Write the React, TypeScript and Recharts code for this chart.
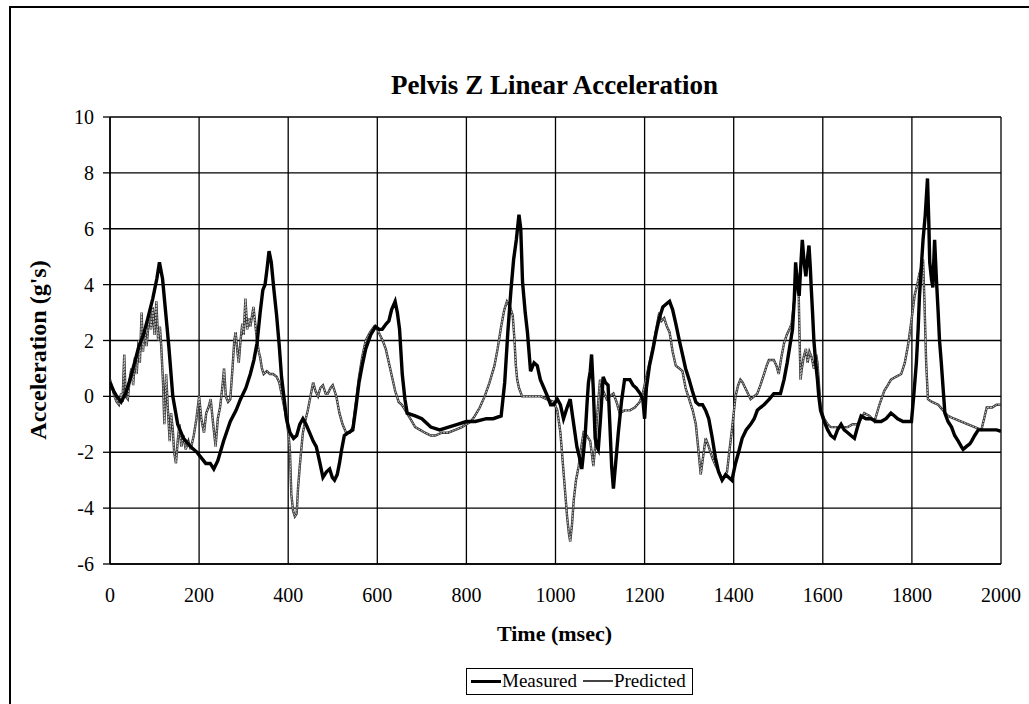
import React from 'react'
import { LineChart, Line, XAxis, YAxis, CartesianGrid } from 'recharts'

// time (msec) / acceleration (g's)
const measuredT = [0, 8, 15, 25, 35, 45, 55, 65, 75, 85, 96, 105, 111, 118, 125, 132, 141, 152, 165, 181, 195, 205, 215, 225, 233, 242, 255, 270, 283, 293, 305, 315, 323, 330, 337, 343, 348, 352, 357, 362, 368, 374, 380, 385, 391, 396, 404, 412, 419, 426, 433, 440, 448, 456, 463, 470, 478, 486, 493, 499, 504, 510, 515, 520, 526, 535, 545, 552, 559, 566, 574, 585, 596, 604, 611, 620, 626, 632, 640, 645, 650, 656, 662, 667, 685, 700, 720, 740, 760, 780, 800, 820, 845, 860, 878, 886, 893, 900, 906, 912, 918, 922, 926, 932, 937, 944, 952, 959, 966, 974, 982, 989, 996, 1004, 1011, 1018, 1026, 1033, 1040, 1048, 1054, 1059, 1063, 1067, 1071, 1074, 1078, 1081, 1085, 1089, 1093, 1096, 1101, 1107, 1112, 1118, 1122, 1126, 1130, 1135, 1141, 1148, 1155, 1161, 1167, 1174, 1181, 1190, 1196, 1200, 1204, 1211, 1219, 1226, 1233, 1241, 1248, 1256, 1263, 1270, 1278, 1285, 1292, 1300, 1307, 1315, 1322, 1330, 1337, 1344, 1352, 1359, 1366, 1374, 1382, 1389, 1396, 1404, 1411, 1419, 1428, 1438, 1446, 1453, 1460, 1468, 1480, 1490, 1505, 1513, 1520, 1526, 1532, 1536, 1539, 1543, 1547, 1551, 1554, 1558, 1562, 1566, 1569, 1572, 1574, 1577, 1580, 1584, 1588, 1591, 1595, 1603, 1611, 1618, 1626, 1633, 1641, 1648, 1656, 1663, 1671, 1678, 1686, 1697, 1708, 1720, 1731, 1742, 1753, 1761, 1768, 1780, 1790, 1799, 1804, 1810, 1814, 1817, 1821, 1825, 1830, 1835, 1838, 1840, 1844, 1847, 1849, 1851, 1855, 1859, 1862, 1866, 1870, 1874, 1881, 1889, 1896, 1904, 1911, 1915, 1922, 1930, 1934, 1941, 1949, 1960, 1975, 1990, 2000]
const measuredV = [0.5, 0.2, 0.0, -0.2, 0.1, 0.6, 1.2, 1.8, 2.2, 2.8, 3.5, 4.2, 4.8, 4.2, 3.0, 1.8, 0.0, -1.0, -1.5, -1.8, -2.0, -2.2, -2.4, -2.4, -2.6, -2.3, -1.6, -0.9, -0.5, -0.1, 0.3, 0.8, 1.3, 1.9, 3.0, 3.8, 4.0, 4.5, 5.2, 4.8, 3.8, 2.9, 1.8, 0.7, -0.1, -0.8, -1.3, -1.5, -1.4, -1.0, -0.8, -1.0, -1.3, -1.6, -1.8, -2.3, -2.9, -2.7, -2.6, -2.9, -3.0, -2.8, -2.4, -1.9, -1.4, -1.3, -1.2, -0.4, 0.5, 1.1, 1.7, 2.2, 2.5, 2.4, 2.4, 2.6, 2.7, 3.1, 3.4, 3.0, 2.4, 0.8, -0.1, -0.6, -0.7, -0.8, -1.1, -1.2, -1.1, -1.0, -0.9, -0.9, -0.8, -0.8, -0.7, 0.5, 2.3, 3.8, 4.9, 5.6, 6.5, 6.0, 4.1, 3.0, 2.3, 0.9, 1.2, 1.1, 0.6, 0.3, 0.0, -0.3, -0.3, -0.1, -0.3, -0.8, -0.4, -0.1, -0.9, -1.8, -2.2, -2.6, -2.0, -1.3, -0.2, 0.5, 0.9, 1.5, 0.2, -1.5, -1.8, -1.9, -0.8, 0.7, 0.5, 0.4, -1.0, -2.5, -3.3, -2.4, -1.3, -0.2, 0.6, 0.6, 0.6, 0.4, 0.3, 0.1, -0.1, -0.8, 0.3, 1.1, 1.7, 2.3, 2.8, 3.2, 3.3, 3.4, 3.1, 2.6, 2.0, 1.5, 1.0, 0.6, 0.2, -0.2, -0.3, -0.3, -0.5, -0.8, -1.5, -2.2, -2.7, -3.0, -2.8, -2.9, -3.0, -2.4, -2.0, -1.5, -1.2, -1.0, -0.8, -0.5, -0.4, -0.3, -0.1, 0.1, 0.1, 0.6, 1.2, 1.8, 2.4, 3.5, 4.8, 4.0, 3.6, 4.8, 5.6, 4.8, 4.3, 5.0, 5.4, 4.6, 3.9, 3.0, 2.0, 1.2, 0.6, 0.0, -0.5, -0.9, -1.2, -1.4, -1.5, -1.2, -1.0, -1.2, -1.3, -1.4, -1.5, -1.1, -0.7, -0.8, -0.8, -0.9, -0.9, -0.8, -0.6, -0.7, -0.8, -0.9, -0.9, -0.9, 0.0, 1.2, 2.4, 3.6, 4.6, 5.6, 6.5, 7.8, 6.2, 4.8, 4.2, 3.9, 4.8, 5.6, 4.2, 3.0, 2.0, 1.2, 0.3, -0.6, -0.9, -1.1, -1.4, -1.6, -1.8, -1.9, -1.8, -1.7, -1.6, -1.4, -1.2, -1.2, -1.2, -1.2, -1.25]

const predictedT = [0, 5, 10, 15, 20, 25, 28, 32, 35, 40, 44, 48, 52, 56, 60, 64, 67, 71, 74, 78, 82, 85, 88, 92, 96, 100, 104, 108, 112, 115, 119, 122, 126, 130, 134, 137, 141, 144, 148, 152, 156, 160, 165, 170, 176, 181, 188, 194, 200, 205, 211, 216, 221, 226, 231, 237, 242, 247, 252, 256, 260, 265, 270, 275, 279, 282, 286, 289, 293, 297, 300, 304, 308, 312, 315, 319, 322, 326, 330, 334, 337, 341, 345, 352, 359, 366, 374, 380, 385, 390, 396, 401, 404, 407, 411, 415, 419, 422, 426, 430, 433, 438, 444, 450, 456, 461, 467, 472, 478, 484, 489, 495, 500, 508, 515, 522, 530, 538, 545, 552, 559, 566, 574, 584, 593, 600, 606, 612, 619, 626, 633, 640, 648, 655, 663, 674, 685, 696, 707, 720, 730, 745, 759, 775, 790, 800, 810, 819, 830, 841, 852, 863, 870, 878, 885, 891, 898, 904, 908, 911, 914, 918, 925, 937, 950, 967, 980, 996, 1004, 1011, 1018, 1022, 1026, 1030, 1033, 1037, 1041, 1046, 1052, 1057, 1063, 1070, 1078, 1085, 1089, 1093, 1097, 1100, 1107, 1115, 1122, 1130, 1137, 1144, 1155, 1167, 1178, 1189, 1196, 1204, 1211, 1219, 1226, 1233, 1238, 1244, 1250, 1256, 1263, 1270, 1278, 1285, 1292, 1300, 1308, 1315, 1320, 1326, 1331, 1337, 1344, 1352, 1360, 1367, 1374, 1381, 1385, 1390, 1396, 1404, 1410, 1415, 1420, 1426, 1432, 1438, 1446, 1453, 1460, 1468, 1474, 1479, 1490, 1496, 1501, 1507, 1513, 1519, 1525, 1530, 1535, 1540, 1545, 1548, 1550, 1553, 1557, 1562, 1566, 1570, 1575, 1580, 1585, 1588, 1592, 1595, 1603, 1611, 1618, 1626, 1641, 1656, 1667, 1678, 1686, 1693, 1705, 1716, 1727, 1738, 1746, 1753, 1764, 1776, 1784, 1791, 1798, 1806, 1812, 1817, 1821, 1825, 1828, 1832, 1836, 1845, 1859, 1870, 1881, 1895, 1911, 1926, 1941, 1956, 1962, 1968, 1980, 1990, 2000]
const predictedV = [0.6, 0.3, 0.0, -0.2, -0.3, 0.1, -0.2, 1.5, 0.0, -0.1, 0.6, 1.0, 0.4, 1.4, 0.8, 2.0, 1.2, 3.0, 1.6, 2.4, 1.8, 2.3, 3.0, 2.4, 3.2, 2.2, 3.4, 2.0, 2.5, 1.8, 0.5, -1.0, 0.8, -0.5, -1.6, -0.6, -1.2, -2.0, -2.4, -1.6, -1.0, -1.8, -1.4, -1.9, -1.6, -1.9, -1.4, -0.8, 0.0, -0.8, -1.3, -0.6, -0.4, -0.1, -0.9, -1.8, -0.8, -0.4, 0.3, 1.0, 0.0, -0.2, -0.1, 1.0, 2.0, 2.3, 1.6, 1.2, 2.0, 2.6, 2.2, 3.5, 2.4, 2.8, 2.5, 2.9, 3.2, 2.6, 2.0, 1.6, 1.4, 1.0, 0.8, 0.9, 0.8, 0.8, 0.7, 0.5, 0.1, -0.3, -0.8, -1.4, -2.0, -3.5, -4.1, -4.3, -4.2, -3.3, -2.5, -1.8, -1.3, -0.9, -0.5, 0.0, 0.5, 0.2, 0.0, 0.3, 0.4, 0.1, 0.1, 0.3, 0.4, 0.0, -0.6, -1.0, -1.3, -1.3, -1.1, -0.2, 0.7, 1.4, 2.0, 2.3, 2.5, 2.4, 2.2, 2.0, 1.7, 1.2, 0.7, 0.2, -0.2, -0.3, -0.5, -0.8, -1.1, -1.2, -1.3, -1.4, -1.4, -1.3, -1.3, -1.2, -1.1, -1.0, -0.9, -0.7, -0.4, 0.0, 0.5, 1.1, 1.7, 2.5, 3.1, 3.4, 3.2, 2.9, 2.0, 1.1, 0.6, 0.3, 0.0, 0.0, 0.0, 0.0, -0.1, -0.2, -0.5, -1.3, -2.7, -3.5, -4.3, -4.9, -5.2, -4.6, -3.7, -3.0, -2.5, -1.9, -1.3, -1.4, -1.6, -2.5, -1.8, -0.8, 0.0, 0.6, 0.2, -0.1, 0.0, 0.1, -0.2, -0.6, -0.5, -0.5, -0.4, -0.2, 0.1, 0.7, 1.2, 1.8, 2.4, 3.0, 2.7, 2.8, 2.5, 2.3, 1.6, 1.1, 1.0, 0.9, 0.3, -0.1, -0.5, -1.0, -1.8, -2.8, -2.2, -1.5, -1.8, -2.2, -2.5, -2.7, -3.0, -2.8, -2.7, -2.0, -1.2, 0.0, 0.4, 0.6, 0.5, 0.3, 0.1, -0.1, 0.0, 0.1, 0.4, 0.8, 1.1, 1.3, 1.3, 1.1, 0.8, 1.4, 1.9, 2.2, 2.4, 2.6, 3.3, 4.0, 4.4, 2.0, 0.6, 1.0, 1.4, 1.7, 1.2, 1.6, 1.4, 1.0, 1.5, 1.2, 0.3, -0.4, -0.8, -1.0, -1.1, -1.1, -1.1, -1.1, -1.0, -1.0, -0.8, -0.6, -0.7, -0.9, -0.3, 0.2, 0.4, 0.6, 0.7, 0.8, 1.2, 1.8, 2.6, 3.6, 4.0, 4.4, 4.6, 4.9, 3.5, 1.2, -0.1, -0.2, -0.3, -0.5, -0.7, -0.8, -0.9, -1.0, -1.1, -1.2, -0.8, -0.4, -0.4, -0.3, -0.3]

const xTicks = [0, 200, 400, 600, 800, 1000, 1200, 1400, 1600, 1800, 2000]
const yTicks = [-6, -4, -2, 0, 2, 4, 6, 8, 10]

const measured = measuredT.map((t, i) => ({ t, v: measuredV[i] }))
const predicted = predictedT.map((t, i) => ({ t, v: predictedV[i] }))

const FONT = '"Liberation Serif", "Times New Roman", serif'

export default function App() {
  return (
    <div style={{ position: 'absolute', left: 0, top: 0, width: 1029, height: 704, overflow: 'hidden', background: '#fff', fontFamily: FONT }}>
      {/* outer chart frame */}
      <div style={{ position: 'absolute', left: 9, top: 6, width: 1040, height: 720, border: '2px solid #000' }} />

      <div style={{ position: 'absolute', left: 0, right: 0, top: 70, textAlign: 'center', paddingLeft: 80, fontSize: 27, fontWeight: 'bold' }}>
        Pelvis Z Linear Acceleration
      </div>

      <div style={{ position: 'absolute', left: 38, top: 350, transform: 'translate(-50%, -50%) rotate(-90deg)', whiteSpace: 'nowrap', fontSize: 24, fontWeight: 'bold' }}>
        Acceleration (g's)
      </div>

      <LineChart width={1029} height={704} margin={{ top: 117, right: 28, left: 50, bottom: 100 }} style={{ position: 'absolute', left: 0, top: 0 }}>
        <CartesianGrid stroke="#000" strokeWidth={1.3} horizontalValues={yTicks} verticalValues={xTicks} />
        <XAxis dataKey="t" type="number" domain={[0, 2000]} ticks={xTicks} allowDataOverflow
          height={40} tickLine={false} tickSize={6} tickMargin={18}
          axisLine={{ stroke: '#000', strokeWidth: 1.5 }}
          tick={{ fill: '#000', fontSize: 20, fontFamily: FONT }} />
        <YAxis type="number" domain={[-6, 10]} ticks={yTicks} allowDataOverflow
          width={60} tickSize={7} tickMargin={9}
          tickLine={{ stroke: '#000', strokeWidth: 1.3 }}
          axisLine={{ stroke: '#000', strokeWidth: 1.5 }}
          tick={{ fill: '#000', fontSize: 20, fontFamily: FONT }} />
        <Line data={predicted} dataKey="v" type="linear" stroke="#333" strokeWidth={2.4} dot={false} isAnimationActive={false} />
        <Line data={predicted} dataKey="v" type="linear" stroke="#d0d0d0" strokeWidth={0.9} strokeDasharray="2 1" dot={false} isAnimationActive={false} />
        <Line data={measured} dataKey="v" type="linear" stroke="#000" strokeWidth={3.4} dot={false} isAnimationActive={false} />
      </LineChart>

      <div style={{ position: 'absolute', left: 0, right: 0, top: 621, textAlign: 'center', paddingLeft: 80, fontSize: 22, fontWeight: 'bold' }}>
        Time (msec)
      </div>

      <div style={{ position: 'absolute', left: 466, top: 668, border: '1.5px solid #000', padding: '1px 6px 2px 4px', display: 'flex', alignItems: 'center', fontSize: 19, whiteSpace: 'nowrap' }}>
        <span style={{ display: 'inline-block', width: 30, height: 3, background: '#000' }} />
        <span style={{ marginLeft: 1, marginRight: 6 }}>Measured</span>
        <span style={{ display: 'inline-block', width: 30, height: 2, borderTop: '1px solid #444', borderBottom: '1px solid #444', background: '#ddd', boxSizing: 'border-box' }} />
        <span style={{ marginLeft: 1 }}>Predicted</span>
      </div>
    </div>
  )
}
